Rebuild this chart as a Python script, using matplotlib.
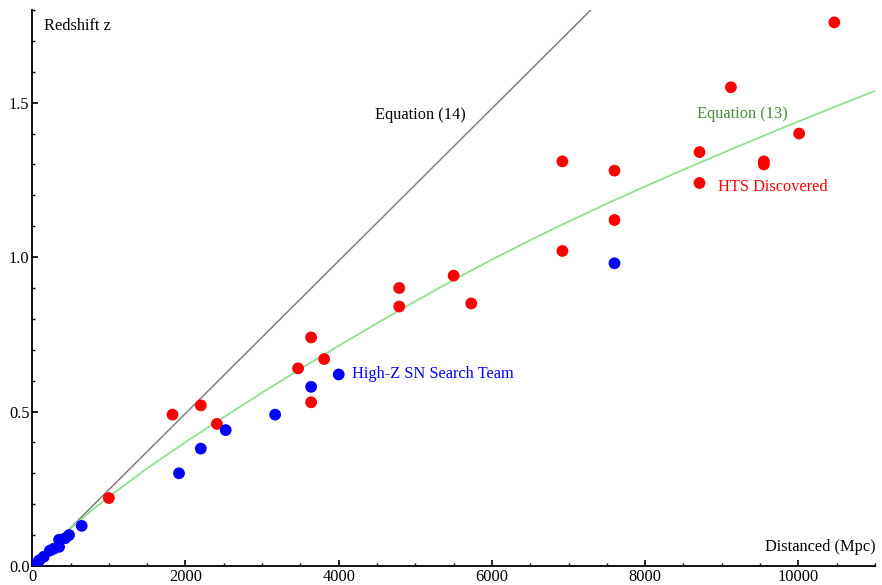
import numpy as np
import matplotlib
matplotlib.use("Agg")
from matplotlib import pyplot as plt
from matplotlib.ticker import MultipleLocator

# HTS discovered supernovae (distance in Mpc, redshift z)
hts_d = [1000, 1830, 2200, 2410, 3470, 3640, 3640, 3810, 4790, 4790, 5500, 5730,
         6920, 6920, 7600, 7600, 8710, 8710, 9120, 9550, 9550, 10010, 10470]
hts_z = [0.22, 0.49, 0.52, 0.46, 0.64, 0.74, 0.53, 0.67, 0.90, 0.84, 0.94, 0.85,
         1.31, 1.02, 1.28, 1.12, 1.34, 1.24, 1.55, 1.31, 1.30, 1.40, 1.76]

# High-Z SN Search Team
hz_d = [30, 90, 150, 230, 280, 350, 350, 430, 480, 645,
        1915, 2200, 2525, 3170, 3640, 4000, 7600]
hz_z = [0.005, 0.018, 0.030, 0.050, 0.056, 0.062, 0.085, 0.090, 0.100, 0.130,
        0.30, 0.38, 0.44, 0.49, 0.58, 0.62, 0.98]

# Equation (14): straight line
eq14_d = [0, 7290]
eq14_z = [0.0, 1.8]

# Equation (13): curve
eq13_d = [0, 250, 500, 750, 1000, 1500, 2000, 2500, 3000, 3500, 4000, 4500, 5000, 5500,
          6000, 6500, 7000, 7500, 8000, 8500, 9000, 9500, 10000, 10500, 11000]
eq13_z = [0.0, 0.062, 0.122, 0.175, 0.224, 0.316, 0.401, 0.482, 0.561, 0.638, 0.713, 0.786,
          0.857, 0.926, 0.992, 1.055, 1.115, 1.173, 1.229, 1.283, 1.336, 1.388, 1.439,
          1.489, 1.538]

plt.rcParams['font.family'] = ['Liberation Serif', 'DejaVu Serif']
fs = 11.8

fig = plt.figure(figsize=(8.82, 5.85), dpi=100)
ax = fig.add_axes([0.0366, 0.0325, 0.9554, 0.9504])

ax.plot(eq14_d, eq14_z, color='#808080', lw=1.1, zorder=2)
ax.plot(eq13_d, eq13_z, color='#90e090', lw=1.3, zorder=2, solid_joinstyle='round')
ax.scatter(hts_d, hts_z, s=72, color='#ff0000', edgecolors='none', zorder=3)
ax.scatter(hz_d, hz_z, s=72, color='#0000ff', edgecolors='none', zorder=4)

ax.set_xlim(0, 11000)
ax.set_ylim(0, 1.8)
for s in ['top', 'right']:
    ax.spines[s].set_visible(False)
for s in ['left', 'bottom']:
    ax.spines[s].set_linewidth(1.3)

ax.xaxis.set_major_locator(MultipleLocator(2000))
ax.xaxis.set_minor_locator(MultipleLocator(500))
ax.yaxis.set_major_locator(MultipleLocator(0.5))
ax.yaxis.set_minor_locator(MultipleLocator(0.1))
ax.set_yticks([0, 0.5, 1.0, 1.5])
ax.set_yticklabels(['0.0', '0.5', '1.0', '1.5'])
ax.tick_params(which='major', direction='in', length=4, width=1.2, labelsize=fs, pad=2)
ax.tick_params(which='minor', direction='in', length=2.5, width=1.0)

ax.text(153, 1.748, 'Redshift z', fontsize=fs, va='center', ha='left')
ax.text(11014, 0.06, 'Distanced (Mpc)', fontsize=fs, va='center', ha='right')
ax.text(4474, 1.46, 'Equation (14)', fontsize=fs, va='center', ha='left', color='black')
ax.text(8678, 1.463, 'Equation (13)', fontsize=fs, va='center', ha='left', color='#4a8a3a')
ax.text(8956, 1.226, 'HTS Discovered', fontsize=fs, va='center', ha='left', color='#ff0000')
ax.text(4170, 0.62, 'High-Z SN Search Team', fontsize=fs, va='center', ha='left', color='#0000ff')

fig.savefig('out.png', dpi=100)
